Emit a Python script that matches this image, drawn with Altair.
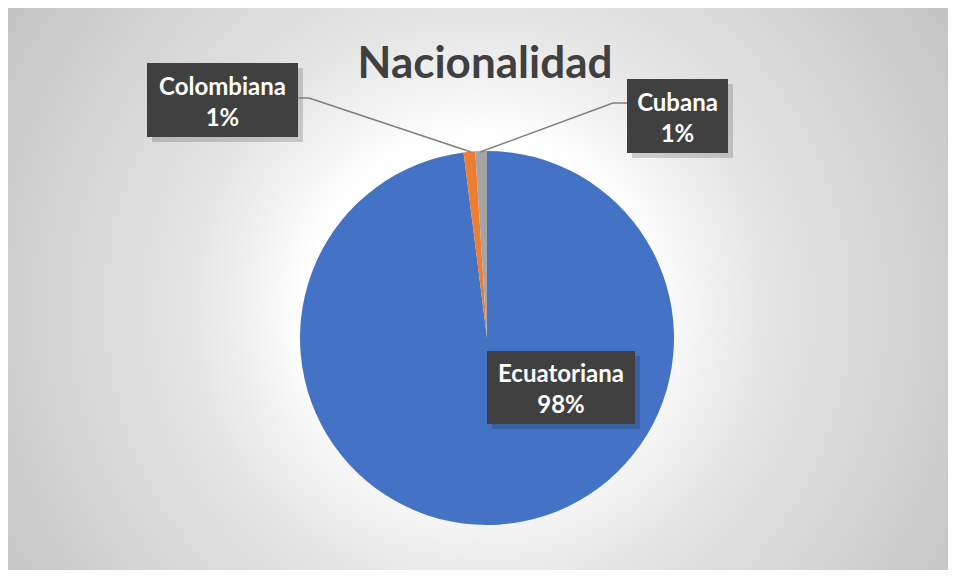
import altair as alt
import pandas as pd

# ---- data ----
categories = ["Ecuatoriana", "Colombiana", "Cubana"]
values = [98, 1, 1]
colors = ["#4472C4", "#ED7D31", "#A5A5A5"]
title_text = "Nacionalidad"

df = pd.DataFrame({"cat": categories, "value": values, "idx": list(range(len(categories)))})
df["label"] = df["cat"] + "\n" + df["value"].astype(str) + "%"

W, H = 940, 562
CX, CY, R = 479, 330, 187
FONT = "Lato"

base = alt.Chart(df)

bg = alt.Chart(pd.DataFrame({"a": [0]})).mark_rect(
    fill=alt.RadialGradient(
        gradient="radial", x1=0.5, y1=0.52, r1=0, x2=0.5, y2=0.52, r2=0.6,
        stops=[
            alt.GradientStop(offset=0, color="#ffffff"),
            alt.GradientStop(offset=0.3, color="#ffffff"),
            alt.GradientStop(offset=0.5, color="#e6e6e6"),
            alt.GradientStop(offset=0.83, color="#cfcfcf"),
            alt.GradientStop(offset=1, color="#c3c3c3"),
        ],
    )
).encode(x=alt.value(0), x2=alt.value(W), y=alt.value(0), y2=alt.value(H))

pie = base.mark_arc(radius=R, stroke=None).encode(
    theta=alt.Theta("value:Q", stack=True),
    color=alt.Color("cat:N", scale=alt.Scale(domain=categories, range=colors), legend=None),
    order=alt.Order("idx:Q"),
    x=alt.value(CX),
    y=alt.value(CY),
)

title = alt.Chart(pd.DataFrame({"t": [title_text]})).mark_text(
    font=FONT, fontWeight="bold", fontSize=44, color="#404040", baseline="alphabetic", align="center"
).encode(text="t:N", x=alt.value(477), y=alt.value(70))

# annotation layout (box: x1, y1, x2, y2 in chart pixels)
boxes = {
    "Colombiana": (139, 55, 290, 129),
    "Cubana": (619, 71, 720, 145),
    "Ecuatoriana": (479, 343, 627, 416),
}
leaders = {
    "Colombiana": [(290, 90, 301, 90), (301, 90, 463, 144)],
    "Cubana": [(619, 95, 605, 95), (605, 95, 472, 144)],
}
LH = 31

layers = [bg, pie, title]
for cat, (x1, y1, x2, y2) in boxes.items():
    shadow = base.transform_filter(alt.datum.cat == cat).mark_rect(
        fill="#000000", opacity=0.16
    ).encode(x=alt.value(x1 + 5), x2=alt.value(x2 + 5), y=alt.value(y1 + 5), y2=alt.value(y2 + 5))
    box = base.transform_filter(alt.datum.cat == cat).mark_rect(fill="#404040").encode(
        x=alt.value(x1), x2=alt.value(x2), y=alt.value(y1), y2=alt.value(y2)
    )
    txt = base.transform_filter(alt.datum.cat == cat).mark_text(
        font=FONT, fontWeight="bold", fontSize=24, color="#ffffff", lineBreak="\n",
        lineHeight=LH, align="center", baseline="middle"
    ).encode(text="label:N", x=alt.value((x1 + x2) / 2), y=alt.value((y1 + y2) / 2 - LH / 2 + 3))
    layers += [shadow, box, txt]

for cat, segs in leaders.items():
    for (a, b, c, d) in segs:
        layers.append(
            base.transform_filter(alt.datum.cat == cat).mark_rule(color="#7f7f7f", strokeWidth=1.5).encode(
                x=alt.value(a), y=alt.value(b), x2=alt.value(c), y2=alt.value(d)
            )
        )

chart = alt.layer(*layers).properties(
    width=W, height=H, padding=0, autosize=alt.AutoSizeParams(type="none")
).configure_view(stroke=None)

chart.save("out.html", embed_options={"renderer": "svg", "actions": False})
